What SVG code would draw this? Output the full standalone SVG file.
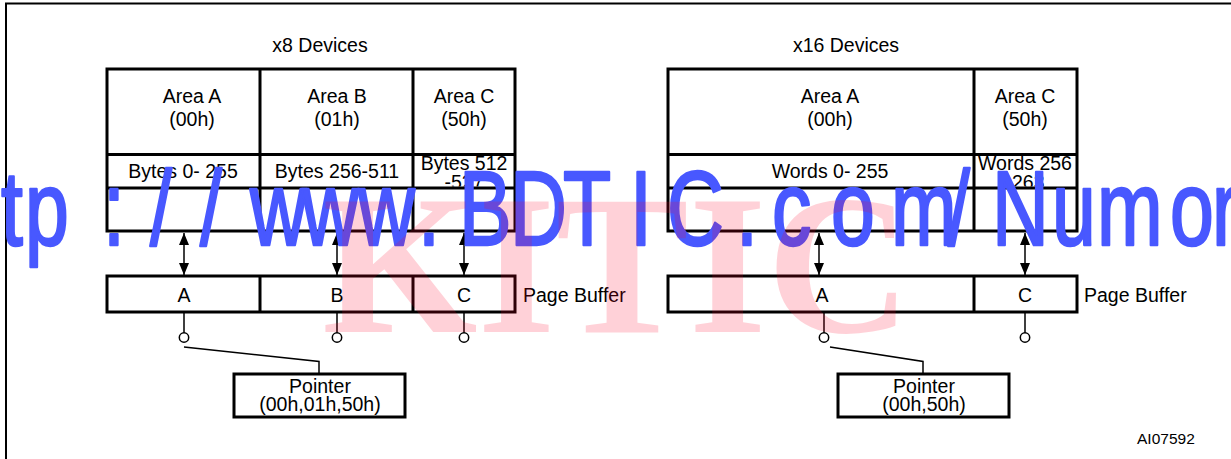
<svg xmlns="http://www.w3.org/2000/svg" width="1231" height="459" viewBox="0 0 1231 459">
<style>
.t{font-family:"Liberation Sans",Arial,sans-serif;font-size:19.5px;fill:#000;text-anchor:middle}
.ts{font-family:"Liberation Sans",Arial,sans-serif;font-size:19.5px;fill:#000}
.box{fill:#fff;stroke:#000;stroke-width:3}
.ln{fill:none;stroke:#000;stroke-width:3}
.thin{fill:none;stroke:#000;stroke-width:1.5}
.circ{fill:#fff;stroke:#000;stroke-width:1.5}
</style>
<defs>
<marker id="ah" viewBox="0 0 12 10" refX="12" refY="5" markerWidth="12" markerHeight="10" markerUnits="userSpaceOnUse" orient="auto-start-reverse">
<path d="M0,0 L12,5 L0,10 z" fill="#000"/>
</marker>
<clipPath id="cl8"><rect x="415" y="155.5" width="98" height="31"/></clipPath>
<clipPath id="cl16"><rect x="976" y="155.5" width="99" height="31"/></clipPath>
</defs>
<rect width="1231" height="459" fill="#fff"/>
<path d="M6,462 V3.5 H1235" fill="none" stroke="#000" stroke-width="2"/>

<g id="title-x8"><text class="t" x="320" y="52">x8 Devices</text></g>
<g id="title-x16"><text class="t" x="846" y="52">x16 Devices</text></g>

<g id="x8-memory">
<rect class="box" x="107" y="69" width="408" height="162"/>
<path class="ln" d="M107,154.5 H515 M107,188 H515 M260,69 V231 M413,69 V231"/>
<g id="x8-area-a"><text class="t" x="192" y="103">Area A</text><text class="t" x="192" y="126">(00h)</text><text class="t" x="183" y="178">Bytes 0- 255</text></g>
<g id="x8-area-b"><text class="t" x="337" y="103">Area B</text><text class="t" x="337" y="126">(01h)</text><text class="t" x="337" y="178">Bytes 256-511</text></g>
<g id="x8-area-c"><text class="t" x="464" y="103">Area C</text><text class="t" x="464" y="126">(50h)</text><g clip-path="url(#cl8)"><text class="t" x="464" y="170">Bytes 512</text><text class="t" x="464" y="189">-527</text></g></g>
</g>

<g id="x16-memory">
<rect class="box" x="668" y="69" width="409" height="162"/>
<path class="ln" d="M668,154.5 H1077 M668,188 H1077 M974,69 V231"/>
<g id="x16-area-a"><text class="t" x="830" y="103">Area A</text><text class="t" x="830" y="126">(00h)</text><text class="t" x="830" y="178">Words 0- 255</text></g>
<g id="x16-area-c"><text class="t" x="1025" y="103">Area C</text><text class="t" x="1025" y="126">(50h)</text><g clip-path="url(#cl16)"><text class="t" x="1025" y="170">Words 256</text><text class="t" x="1025" y="189">-263</text></g></g>
</g>

<g id="x8-page-buffer">
<rect class="box" x="107" y="276" width="408" height="36"/>
<path class="ln" d="M260,276 V312 M413,276 V312"/>
<text class="t" x="184" y="302">A</text><text class="t" x="337" y="302">B</text><text class="t" x="464" y="302">C</text>
<text class="ts" x="523" y="302">Page Buffer</text>
</g>

<g id="x16-page-buffer">
<rect class="box" x="668" y="276" width="409" height="36"/>
<path class="ln" d="M974,276 V312"/>
<text class="t" x="822" y="302">A</text><text class="t" x="1025" y="302">C</text>
<text class="ts" x="1084" y="302">Page Buffer</text>
</g>

<g id="x8-pointer">
<rect class="box" x="234" y="374" width="171" height="43"/>
<text class="t" x="320" y="393">Pointer</text><text class="t" x="320" y="411">(00h,01h,50h)</text>
</g>
<g id="x16-pointer">
<rect class="box" x="838" y="374" width="171" height="43"/>
<text class="t" x="924" y="393">Pointer</text><text class="t" x="924" y="411">(00h,50h)</text>
</g>

<g id="connectors">
<path class="thin" d="M184,233 V275" marker-start="url(#ah)" marker-end="url(#ah)"/>
<path class="thin" d="M337,233 V275" marker-start="url(#ah)" marker-end="url(#ah)"/>
<path class="thin" d="M464,233 V275" marker-start="url(#ah)" marker-end="url(#ah)"/>
<path class="thin" d="M819,233 V275" marker-start="url(#ah)" marker-end="url(#ah)"/>
<path class="thin" d="M1025,233 V275" marker-start="url(#ah)" marker-end="url(#ah)"/>
<path class="thin" d="M184,313 V333 M337,313 V333 M464,313 V333 M824,313 V333 M1025,313 V333"/>
<circle class="circ" cx="184" cy="337.5" r="4.7"/>
<circle class="circ" cx="337" cy="337.5" r="4.7"/>
<circle class="circ" cx="464" cy="337.5" r="4.7"/>
<circle class="circ" cx="824" cy="337.5" r="4.7"/>
<circle class="circ" cx="1025" cy="337.5" r="4.7"/>
<path class="thin" d="M184,347 L319,361.5 V374"/>
<path class="thin" d="M830,347 L923,361.5 V374"/>
</g>

<text x="1137" y="444" font-family="'Liberation Sans',Arial,sans-serif" font-size="15.5" fill="#000">AI07592</text>

<g id="watermark">
<text transform="scale(0.75 1)" y="245" font-family="'Liberation Sans',Arial,sans-serif" font-size="105" fill="#4858ff" stroke="#4858ff" stroke-width="2.5" stroke-linejoin="round" x="1.3 33.3 137.3 200 266.7 333.3 402.7 477.3 557.3 612 680 750.7 840 889.3 981.3 1029.3 1108 1188 1264 1322.7 1402.7 1462.7 1560 1616">tp://www.BDTIC.com/Numor</text>
<text x="322" y="332" font-family="'Liberation Serif',serif" font-weight="bold" font-size="200" fill="rgb(255,0,38)" fill-opacity="0.18">KITIC</text>
</g>
</svg>
